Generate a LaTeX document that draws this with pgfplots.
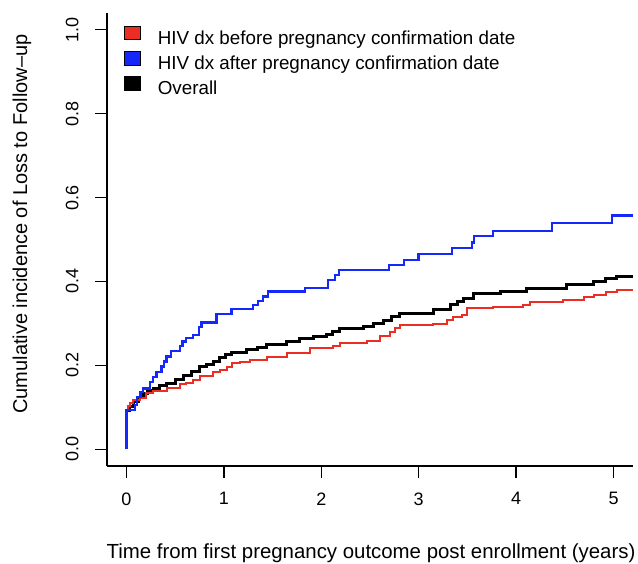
\documentclass[border=0pt]{standalone}
\usepackage{fontspec}
\setmainfont{Liberation Sans}
\usepackage{pgfplots}
\pgfplotsset{compat=1.18}
\definecolor{myred}{RGB}{235,45,35}
\definecolor{myblue}{RGB}{20,40,250}
\begin{document}
\begin{tikzpicture}[font=\fontsize{18}{21.6}\selectfont]
\path[use as bounding box] (-107pt,-97pt) rectangle (531pt,466pt);
\begin{axis}[
 at={(0pt,0pt)}, anchor=south west,
 scale only axis, width=526pt, height=453pt,
 xmin=-0.2, xmax=5.2, ymin=-0.04, ymax=1.04,
 axis x line*=bottom, axis y line*=left,
 axis line style={line width=1.3pt, -},
 every tick/.style={black, line width=1.3pt},
 tick align=outside, major tick length=12pt,
 xtick={0,1,2,3,4,5}, xticklabels={0,1,2,3,4,5},
 ytick={0,0.2,0.4,0.6,0.8,1}, yticklabels={0.0,0.2,0.4,0.6,0.8,1.0},
 /pgf/number format/assume math mode=true,
 xticklabel style={anchor=north},
 xticklabel shift=11pt,
 yticklabel style={rotate=90, anchor=south},
 yticklabel shift=13pt,
 xlabel={Time from first pregnancy outcome post enrollment (years)},
 xlabel style={at={(rel axis cs:0.502,-0.2031)}, anchor=base, font=\fontsize{20.4}{24}\selectfont},
 ylabel={Cumulative incidence of Loss to Follow\textendash up},
 ylabel style={at={(rel axis cs:-0.152,0.534)}, anchor=base, font=\fontsize{20}{24}\selectfont},
 legend image code/.code={\draw[#1, draw=black, line width=1pt] (0pt,0pt) rectangle (16pt,13.4pt);},
 legend cell align=left,
 legend style={at={(rel axis cs:0.033,0.9713)}, anchor=north west, draw=none, fill=none,
   inner sep=0pt, outer sep=0pt, row sep=2.8pt,
   nodes={inner sep=0pt, text height=13pt, text depth=4pt},
   font=\fontsize{18.8}{22}\selectfont,
   /tikz/every odd column/.append style={column sep=16.5pt}},
]
\addlegendimage{fill=myred}
\addlegendentry{HIV dx before pregnancy confirmation date}
\addlegendimage{fill=myblue}
\addlegendentry{HIV dx after pregnancy confirmation date}
\addlegendimage{fill=black}
\addlegendentry{Overall}

% Overall
\addplot[const plot, black, line width=3pt, forget plot] coordinates {
(0,0) (0,0.093) (0.03,0.103) (0.068,0.113) (0.12,0.124) (0.171,0.133) (0.22,0.139) (0.274,0.145)
(0.34,0.151) (0.411,0.157) (0.5,0.166) (0.582,0.175) (0.67,0.186) (0.753,0.197)
(0.82,0.203) (0.89,0.209) (0.959,0.219) (1.02,0.225) (1.079,0.23) (1.233,0.237)
(1.34,0.243) (1.438,0.249) (1.644,0.257) (1.78,0.263) (1.918,0.269) (2.055,0.273)
(2.12,0.281) (2.192,0.288) (2.432,0.292) (2.54,0.3) (2.637,0.308) (2.72,0.316) (2.808,0.324)
(3.151,0.332) (3.322,0.344) (3.4,0.352) (3.459,0.36) (3.562,0.371) (3.836,0.376)
(4.11,0.384) (4.521,0.392) (4.795,0.4) (4.92,0.406) (5.034,0.412) (5.2,0.416)
};
% Before
\addplot[const plot, myred, line width=2pt, forget plot] coordinates {
(0,0) (0,0.093) (0.02,0.103) (0.04,0.111) (0.068,0.117) (0.137,0.121) (0.205,0.133)
(0.274,0.139) (0.411,0.145) (0.548,0.155) (0.616,0.159) (0.685,0.165) (0.753,0.175)
(0.89,0.185) (0.959,0.19) (1.027,0.197) (1.079,0.206) (1.164,0.209) (1.267,0.213)
(1.438,0.221) (1.644,0.229) (1.884,0.241) (2.123,0.246) (2.192,0.254) (2.466,0.259)
(2.603,0.269) (2.705,0.28) (2.76,0.288) (2.808,0.296) (3.151,0.298) (3.288,0.308)
(3.356,0.316) (3.442,0.32) (3.493,0.336) (3.767,0.34) (4.075,0.344) (4.144,0.352)
(4.486,0.356) (4.692,0.364) (4.795,0.368) (4.92,0.374) (5.034,0.38) (5.2,0.382)
};
% After
\addplot[const plot, myblue, line width=2.2pt, forget plot] coordinates {
(0,0) (0,0.093) (0.086,0.105) (0.11,0.125) (0.144,0.137) (0.171,0.145) (0.24,0.161)
(0.274,0.173) (0.308,0.185) (0.36,0.197) (0.384,0.209) (0.411,0.221) (0.455,0.234)
(0.548,0.246) (0.575,0.257) (0.61,0.266) (0.685,0.273) (0.747,0.292) (0.77,0.302)
(0.925,0.322) (1.079,0.334) (1.295,0.344) (1.353,0.354) (1.404,0.364) (1.449,0.376)
(1.832,0.384) (2.072,0.404) (2.14,0.416) (2.184,0.428) (2.692,0.44) (2.849,0.452)
(2.997,0.465) (3.339,0.48) (3.545,0.493) (3.568,0.508) (3.76,0.521) (4.366,0.539)
(4.983,0.557) (5.2,0.557)
};
\end{axis}
\end{tikzpicture}
\end{document}
